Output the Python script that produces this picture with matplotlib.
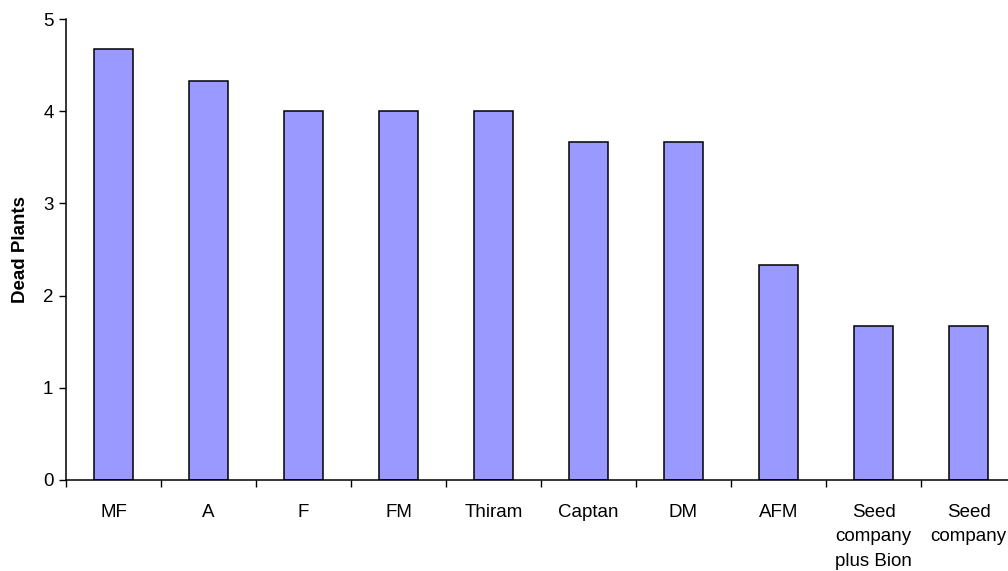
import matplotlib
matplotlib.use('Agg')
import matplotlib.pyplot as plt
import numpy as np

treatments = ['MF', 'A', 'F', 'FM', 'Thiram', 'Captan', 'DM', 'AFM',
              'Seed\ncompany\nplus Bion', 'Seed\ncompany']
dead_plants = [4.67, 4.33, 4.0, 4.0, 4.0, 3.67, 3.67, 2.33, 1.67, 1.67]

plt.rcParams['font.family'] = ['Liberation Sans', 'DejaVu Sans']

fig = plt.figure(figsize=(10.08, 5.71), dpi=100)
# plot area runs slightly past the right edge of the figure
ax = fig.add_axes([66 / 1008, 91 / 571, 950 / 1008, 461 / 571])

x = np.arange(len(treatments))
ax.bar(x, dead_plants, width=0.42, color='#9999FF', edgecolor='black', linewidth=1.1)

ax.set_xlim(-0.5, len(treatments) - 0.5)
ax.set_ylim(0, 5)
ax.set_yticks(range(6))
ax.set_xticks(x)
ax.set_xticklabels(treatments, fontsize=13.5, linespacing=1.6, va='top')
ax.set_xticks(np.arange(-0.5, len(treatments)), minor=True)
ax.tick_params(axis='x', which='major', length=0, pad=17)
ax.tick_params(axis='x', which='minor', length=5, width=1, direction='out')
ax.tick_params(axis='y', length=5, width=1, direction='out', labelsize=13.5, pad=4)

for side in ['top', 'right']:
    ax.spines[side].set_visible(False)
for side in ['left', 'bottom']:
    ax.spines[side].set_linewidth(1.1)

ax.set_ylabel('Dead Plants', fontsize=13.5, fontweight='bold', labelpad=10)

fig.savefig('out.png', dpi=100)
